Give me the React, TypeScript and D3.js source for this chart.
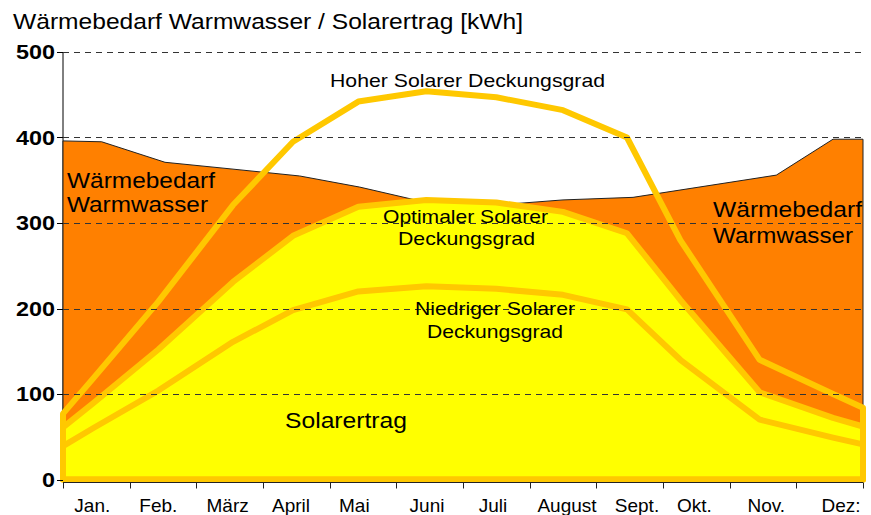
import React from "react";
import * as d3 from "d3";

// ---- data (values in kWh, positions in month units 0..12) ----
const months = ["Jan.", "Feb.", "März", "April", "Mai", "Juni", "Juli", "August", "Sept.", "Okt.", "Nov.", "Dez:"];
const monthLabelPos = [0.44, 1.43, 2.47, 3.42, 4.37, 5.46, 6.45, 7.56, 8.61, 9.47, 10.55, 11.67];
const yTicks = [0, 100, 200, 300, 400, 500];

// heat demand for hot water (Wärmebedarf Warmwasser)
const heatPos = [0, 0.58, 1.53, 2.55, 3.55, 4.45, 5.45, 6.5, 7.5, 8.55, 10.7, 11.55, 12];
const heatVal = [396, 395, 371, 363, 355, 342, 324, 321, 327, 330, 356, 398, 398];

// solar yield curves
const solarPos = [0, 0.45, 1.43, 2.55, 3.45, 4.43, 5.45, 6.5, 7.5, 8.46, 9.26, 10.45, 11.55, 12];
const solarHigh = [77, 118, 208, 321, 395, 442, 454, 447, 432, 400, 280, 140, 100, 84];
const solarOptimal = [61, 89, 152, 231, 285, 319, 327, 324, 313, 288, 210, 102, 72, 62];
const solarLow = [39, 60, 104, 161, 198, 220, 226, 223, 216, 199, 140, 70, 49, 41];

const W = 871;
const H = 515;
const ORANGE = "#FF8000";
const YELLOW = "#FFFF00";
const GOLD = "#FFC800";
const FONT = "'Liberation Sans', Arial, Helvetica, sans-serif";

type Pt = { x: number; v: number };

export default function App() {
  const x = d3.scaleLinear().domain([0, 12]).range([63, 863]);
  const y = d3.scaleLinear().domain([0, 500]).range([479.5, 52]);

  const heatPts: Pt[] = heatPos.map((p, i) => ({ x: p, v: heatVal[i] }));
  const heatArea = d3
    .area<Pt>()
    .x((d) => x(d.x))
    .y0(y(0))
    .y1((d) => y(d.v))(heatPts) as string;

  const closed = (vals: number[]) => {
    const pts: Pt[] = [{ x: 0, v: 0 }, ...solarPos.map((p, i) => ({ x: p, v: vals[i] })), { x: 12, v: 0 }];
    return (
      (d3
        .line<Pt>()
        .x((d) => x(d.x))
        .y((d) => y(d.v))(pts) as string) + "Z"
    );
  };

  const ticksX = d3.range(0, 13);

  return (
    <svg
      width={W}
      height={H}
      style={{ position: "absolute", left: 0, top: 0, background: "#fff" }}
      fontFamily={FONT}
    >
      <rect x={0} y={0} width={W} height={H} fill="#fff" />
      {/* y axis line */}
      <line x1={x(0)} x2={x(0)} y1={y(500)} y2={y(0)} stroke="#000" strokeWidth={1} />

      {/* heat demand area */}
      <path d={heatArea} fill={ORANGE} stroke="#222" strokeWidth={1} strokeLinejoin="round" />

      {/* solar curves */}
      <path d={closed(solarHigh)} fill="none" stroke={GOLD} strokeWidth={6} strokeLinejoin="round" />
      <path d={closed(solarOptimal)} fill={YELLOW} stroke={GOLD} strokeWidth={6} strokeLinejoin="round" />
      <path d={closed(solarLow)} fill="none" stroke={GOLD} strokeWidth={6} strokeLinejoin="round" />

      {/* grid lines */}
      {yTicks
        .filter((t) => t > 0)
        .map((t) => (
          <line
            key={"g" + t}
            x1={x(0)}
            x2={x(12)}
            y1={Math.round(y(t)) + 0.5}
            y2={Math.round(y(t)) + 0.5}
            stroke="#333"
            strokeWidth={1}
            strokeDasharray="6,5"
          />
        ))}

      {/* x axis */}
      <line x1={x(0)} x2={x(12)} y1={y(0) + 3} y2={y(0) + 3} stroke="#222" strokeWidth={1} />
      {ticksX.map((t) => (
        <line
          key={"xt" + t}
          x1={Math.round(x(t)) + 0.5}
          x2={Math.round(x(t)) + 0.5}
          y1={y(0) + 3}
          y2={y(0) + 9}
          stroke="#222"
          strokeWidth={1}
        />
      ))}
      {/* y ticks */}
      {yTicks.map((t) => (
        <line
          key={"yt" + t}
          x1={x(0) - 6}
          x2={x(0)}
          y1={Math.round(y(t)) + 0.5}
          y2={Math.round(y(t)) + 0.5}
          stroke="#000"
          strokeWidth={1}
        />
      ))}
      {yTicks.map((t) => (
        <text
          key={"yl" + t}
          x={55}
          y={y(t) + 7}
          fontSize={20}
          fontWeight="bold"
          textAnchor="end"
          fill="#000"
          textLength={t === 0 ? 13 : 39}
          lengthAdjust="spacingAndGlyphs"
        >
          {t}
        </text>
      ))}
      {months.map((m, i) => (
        <text key={m} x={x(monthLabelPos[i])} y={512} fontSize={19} textAnchor="middle" fill="#000">
          {m}
        </text>
      ))}

      {/* title */}
      <text x={13} y={29} fontSize={22} fill="#000" textLength={510} lengthAdjust="spacingAndGlyphs">
        Wärmebedarf Warmwasser / Solarertrag [kWh]
      </text>

      {/* area labels */}
      <text x={67} y={188} fontSize={22} fill="#000" textLength={148} lengthAdjust="spacingAndGlyphs">
        Wärmebedarf
      </text>
      <text x={67} y={212} fontSize={22} fill="#000" textLength={141} lengthAdjust="spacingAndGlyphs">
        Warmwasser
      </text>
      <text x={713} y={217} fontSize={22} fill="#000" textLength={149} lengthAdjust="spacingAndGlyphs">
        Wärmebedarf
      </text>
      <text x={713} y={243} fontSize={22} fill="#000" textLength={140} lengthAdjust="spacingAndGlyphs">
        Warmwasser
      </text>
      <text x={285} y={428} fontSize={22} fill="#000" textLength={122} lengthAdjust="spacingAndGlyphs">
        Solarertrag
      </text>

      {/* curve labels */}
      <text x={330} y={87} fontSize={19} fill="#000" textLength={275} lengthAdjust="spacingAndGlyphs">
        Hoher Solarer Deckungsgrad
      </text>
      <text x={383} y={223} fontSize={19} fill="#000" textLength={165} lengthAdjust="spacingAndGlyphs">
        Optimaler Solarer
      </text>
      <text x={398} y={245} fontSize={19} fill="#000" textLength={137} lengthAdjust="spacingAndGlyphs">
        Deckungsgrad
      </text>
      <text x={415} y={315} fontSize={19} fill="#000" textLength={160} lengthAdjust="spacingAndGlyphs">
        Niedriger Solarer
      </text>
      <text x={427} y={338} fontSize={19} fill="#000" textLength={136} lengthAdjust="spacingAndGlyphs">
        Deckungsgrad
      </text>
    </svg>
  );
}
